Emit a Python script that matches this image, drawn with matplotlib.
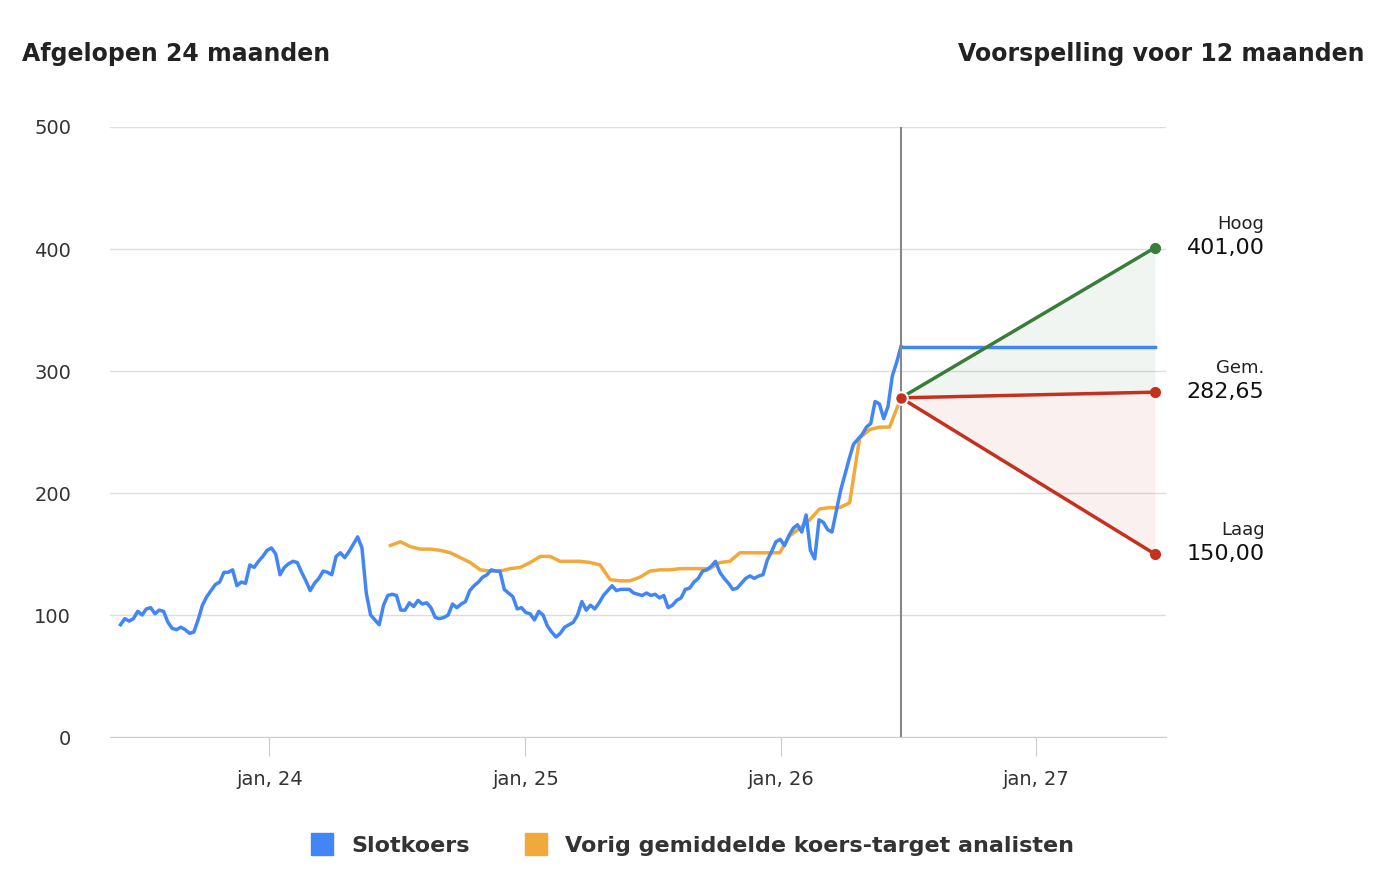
import matplotlib
matplotlib.use("Agg")
import matplotlib.pyplot as plt
import matplotlib.dates as mdates
from matplotlib.lines import Line2D
import pandas as pd

# slotkoers readings, evenly spaced from start to end date
blue_start, blue_end = "2023-06-02", "2026-06-22"
blue_vals = [92, 97, 95, 97, 103, 100, 105, 106, 101, 104, 103, 94, 89, 88, 90, 88, 85, 86, 96, 108,
             115, 120, 125, 127, 135, 135, 137, 124, 127, 126, 141, 139, 144, 148, 153, 155, 150, 133, 139, 142,
             144, 143, 135, 128, 120, 126, 130, 136, 135, 133, 148, 151, 147, 152, 158, 164, 155, 118, 100, 96,
             92, 108, 116, 117, 116, 104, 104, 110, 107, 112, 109, 110, 106, 98, 97, 98, 100, 109, 106, 109,
             111, 120, 124, 127, 131, 133, 137, 136, 136, 121, 118, 115, 105, 106, 102, 101, 96, 103, 100, 91,
             86, 82, 85, 90, 92, 94, 100, 111, 104, 108, 105, 110, 116, 120, 124, 120, 121, 121, 121, 118,
             117, 116, 118, 116, 117, 114, 116, 106, 108, 112, 114, 121, 122, 127, 130, 136, 137, 140, 144, 135,
             130, 126, 121, 122, 126, 130, 132, 130, 132, 133, 145, 152, 160, 162, 157, 165, 171, 174, 168, 182,
             153, 146, 178, 176, 170, 168, 185, 202, 215, 228, 240, 244, 248, 254, 257, 275, 273, 261, 271, 296,
             307, 320]

# vorig gemiddelde koersdoel analisten
orange_start, orange_end = "2024-06-22", "2026-06-20"
orange_vals = [157, 160, 156, 154, 154, 153, 151, 147, 143, 137, 136, 136, 138, 139, 143, 148, 148, 144, 144, 144,
               143, 141, 129, 128, 128, 131, 136, 137, 137, 138, 138, 138, 138, 143, 144, 151, 151, 151, 151, 151,
               165, 171, 178, 187, 188, 188, 192, 245, 252, 254, 254, 275]

# voorspelling
fc_start, fc_end = "2026-06-22", "2027-06-20"
fc_start_val = 278
fc_high, fc_avg, fc_low = 401.00, 282.65, 150.00
last_close = 320

BLUE = "#4285F4"
ORANGE = "#F2A93B"
GREEN = "#3A7D3A"
RED = "#C5301F"

blue_t = pd.date_range(blue_start, blue_end, periods=len(blue_vals))
orange_t = pd.date_range(orange_start, orange_end, periods=len(orange_vals))
t0, t1 = pd.Timestamp(fc_start), pd.Timestamp(fc_end)

fig = plt.figure(figsize=(13.88, 8.8), dpi=100)
ax = fig.add_axes([110/1388, 1-737/880, 1056/1388, 610/880])

ax.fill_between([t0, t1], [fc_start_val, fc_avg], [fc_start_val, fc_high], color=GREEN, alpha=0.07, lw=0)
ax.fill_between([t0, t1], [fc_start_val, fc_low], [fc_start_val, fc_avg], color=RED, alpha=0.07, lw=0)
ax.plot(orange_t, orange_vals, color=ORANGE, lw=2.5)
ax.plot(blue_t, blue_vals, color=BLUE, lw=2.5)
ax.plot([t0, t1], [last_close, last_close], color=BLUE, lw=2.5)
ax.plot([t0, t1], [fc_start_val, fc_high], color=GREEN, lw=2.5)
ax.plot([t0, t1], [fc_start_val, fc_avg], color=RED, lw=2.5)
ax.plot([t0, t1], [fc_start_val, fc_low], color=RED, lw=2.5)
ax.plot([t1], [fc_high], "o", color=GREEN, ms=7)
ax.plot([t1, t1], [fc_avg, fc_low], "o", color=RED, ms=7)
ax.plot([t0], [fc_start_val], "o", color=RED, ms=9, mec="white", mew=1.5, zorder=5)
ax.axvline(t0, color="#888888", lw=1.5)

ax.set_xlim(pd.Timestamp("2023-05-18"), pd.Timestamp("2027-07-06"))
ax.set_ylim(0, 500)
ax.set_yticks([0, 100, 200, 300, 400, 500])
ax.grid(axis="y", color="#DDDDDD", lw=1)
ax.set_axisbelow(True)
for s in ["top", "right", "left"]:
    ax.spines[s].set_visible(False)
ax.spines["bottom"].set_color("#CCCCCC")
ax.xaxis.set_major_locator(mdates.YearLocator())
ax.xaxis.set_major_formatter(mdates.DateFormatter("jan, %y"))
ax.tick_params(axis="x", length=14, color="#CCCCCC", labelsize=14, labelcolor="#333333", pad=10)
ax.tick_params(axis="y", length=0, labelsize=14, labelcolor="#333333", pad=28)

for lab, val in [("Hoog", fc_high), ("Gem.", fc_avg), ("Laag", fc_low)]:
    ax.annotate(lab, (t1, val), xytext=(79, 11), textcoords="offset points", ha="right", va="bottom",
                fontsize=13, color="#222222", annotation_clip=False)
    ax.annotate(f"{val:.2f}".replace(".", ","), (t1, val), xytext=(79, 0), textcoords="offset points",
                ha="right", va="center", fontsize=16, color="#111111", annotation_clip=False)

fig.text(22/1388, 1-54/880, "Afgelopen 24 maanden", fontsize=17, fontweight="bold", color="#222222", va="center")
fig.text(1365/1388, 1-54/880, "Voorspelling voor 12 maanden", fontsize=17, fontweight="bold", color="#222222",
         va="center", ha="right")

handles = [Line2D([], [], marker="s", ls="", color=BLUE, ms=16),
           Line2D([], [], marker="s", ls="", color=ORANGE, ms=16)]
leg = fig.legend(handles, ["Slotkoers", "Vorig gemiddelde koers-target analisten"], loc="center",
                 bbox_to_anchor=(0.495, 1-846/880), ncol=2, frameon=False, handletextpad=0.3, columnspacing=2,
                 prop={"size": 16, "weight": "bold"})
for t in leg.get_texts():
    t.set_color("#333333")

fig.savefig("out.png", dpi=100)
